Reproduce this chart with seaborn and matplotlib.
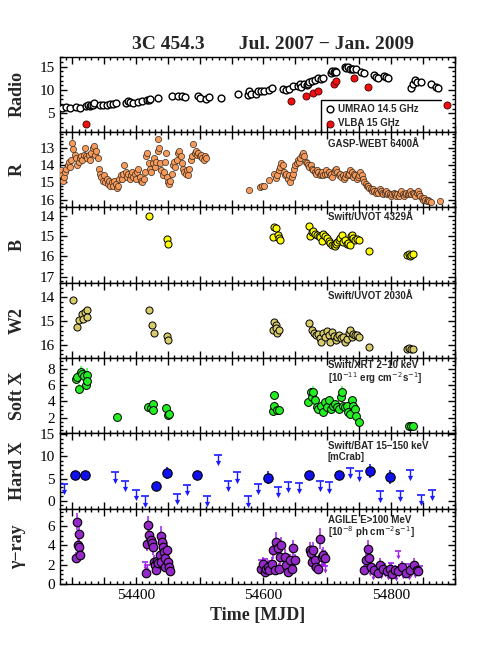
import numpy as np
import pandas as pd
import seaborn as sns
import matplotlib.pyplot as plt
from matplotlib.ticker import MultipleLocator, FuncFormatter

# ---- Radio (UMRAO 14.5 GHz, VLBA 15 GHz), Jy ----
umrao_mjd = [54284, 54290, 54296, 54306, 54312, 54322, 54325, 54328, 54330, 54333,
             54335, 54343, 54348, 54354, 54359, 54364, 54369, 54385, 54388, 54391,
             54396, 54404, 54409, 54417, 54420, 54422, 54435, 54456, 54466, 54473,
             54477, 54497, 54500, 54510, 54515, 54534, 54560, 54576, 54578, 54581,
             54588, 54591, 54596, 54601, 54608, 54614, 54631, 54636, 54640, 54646,
             54654, 54657, 54659, 54664, 54668, 54670, 54672, 54676, 54680, 54686,
             54690, 54694, 54706, 54708, 54710, 54712, 54714, 54728, 54730, 54733,
             54735, 54738, 54741, 54745, 54753, 54758, 54774, 54777, 54780, 54789,
             54792, 54796, 54832, 54834, 54837, 54840, 54847, 54863, 54871, 54873]
umrao_flux = [6.2, 6.3, 6.2, 6.4, 6.1, 6.6, 6.7, 6.6, 6.8, 6.7,
              7.3, 6.8, 6.9, 6.9, 7.0, 7.1, 7.3, 7.3, 7.6, 7.4,
              7.2, 7.4, 7.6, 7.9, 7.8, 8.0, 8.4, 8.7, 8.7, 8.8,
              8.5, 8.7, 8.2, 8.0, 8.6, 8.2, 9.1, 8.9, 9.9, 9.2,
              9.1, 9.7, 9.7, 9.9, 10.0, 10.4, 10.2, 10.0, 10.3, 10.9,
              10.8, 11.2, 10.7, 11.2, 11.1, 11.3, 11.8, 12.0, 12.1, 12.5,
              12.4, 12.6, 13.6, 14.0, 13.8, 14.1, 13.9, 15.0, 14.8, 14.9,
              14.6, 14.4, 14.5, 14.4, 13.8, 13.6, 13.2, 12.8, 12.6, 13.0,
              12.7, 12.6, 10.5, 11.4, 12.1, 11.8, 11.7, 11.2, 10.7, 10.4]
vlba_mjd = [54322, 54643, 54666, 54678, 54685, 54711, 54714, 54742, 54764, 54888]
vlba_flux = [2.7, 7.7, 8.8, 9.4, 9.85, 11.4, 11.9, 12.5, 10.6, 6.8]

# ---- GASP-WEBT R band, mag ----
r_mjd = [54282, 54284, 54285, 54287, 54289, 54291, 54293, 54295, 54297, 54299,
         54300, 54302, 54304, 54306, 54308, 54310, 54312, 54314, 54316, 54318,
         54320, 54322, 54324, 54326, 54328, 54330, 54332, 54334, 54336, 54338,
         54340,
         54342, 54344, 54346, 54348, 54350, 54352, 54354, 54356, 54358, 54360,
         54362, 54364, 54366, 54368, 54370, 54372, 54374, 54376, 54378, 54380,
         54382, 54384, 54386, 54388, 54390, 54392, 54394, 54396, 54398, 54400,
         54402, 54404, 54406, 54408, 54410, 54412, 54414, 54416, 54418, 54420,
         54422, 54424, 54426, 54428, 54430, 54432, 54434, 54435, 54436, 54438,
         54440, 54442, 54444, 54446, 54447, 54448, 54450, 54452, 54454, 54456,
         54458, 54460, 54462, 54464, 54466, 54468, 54470, 54472, 54474, 54476,
         54478, 54480, 54482, 54484, 54486, 54488, 54490, 54492, 54494, 54496,
         54498, 54500, 54502, 54504, 54506, 54508, 54510,
         54578, 54595, 54598, 54601, 54609, 54617, 54619, 54621, 54624, 54626,
         54628, 54630, 54632, 54634, 54636, 54638, 54640, 54642, 54644, 54646,
         54648, 54650, 54652, 54654, 54656, 54658, 54660, 54662, 54664, 54666,
         54668, 54670, 54672, 54674, 54676, 54678, 54680, 54682, 54684, 54686,
         54688, 54690, 54692, 54694, 54696, 54698, 54700, 54702, 54704, 54706,
         54708, 54710, 54712, 54714, 54716, 54718, 54720, 54722, 54724, 54726,
         54728, 54730, 54732, 54734, 54736, 54738, 54740, 54742, 54744, 54746,
         54748, 54750, 54752, 54754, 54756, 54758, 54760, 54762, 54764, 54766,
         54768, 54770, 54772, 54774, 54776, 54778, 54780, 54782, 54784, 54786,
         54788, 54790, 54792, 54794, 54796, 54798, 54800, 54802, 54804, 54806,
         54808, 54810, 54812, 54814, 54816, 54818, 54820, 54822, 54824, 54826,
         54828, 54830, 54832, 54834, 54836, 54838, 54840, 54842, 54844, 54846,
         54848, 54850, 54852, 54854, 54856, 54858, 54860, 54862, 54877]
r_mag = [14.3, 14.6, 14.9, 14.7, 14.4, 14.2, 14.0, 13.8, 14.1, 13.7,
         12.7, 13.1, 13.4, 13.6, 14.0, 13.8, 13.6, 13.5, 13.7, 13.4,
         13.0, 13.5, 13.6, 13.4, 13.7, 13.3, 13.0, 12.9, 13.4, 13.2,
         13.6,
         14.2, 14.5, 14.7, 14.9, 14.6, 15.0, 14.8, 15.1, 14.9, 15.2,
         15.0, 15.2, 14.9, 15.1, 15.3, 15.2, 14.8, 14.6, 14.8, 14.5,
         14.0, 14.4, 14.7, 14.5, 14.8, 14.6, 14.4, 14.7, 14.5, 14.8,
         14.4, 14.2, 14.7, 14.9, 15.0, 14.8, 14.4, 13.5, 13.3, 13.9,
         14.2, 14.4, 13.9, 13.6, 14.1, 13.8, 13.2, 12.5, 13.0, 13.9,
         14.3, 14.6, 14.4, 13.8, 13.3, 14.7, 15.0, 15.1, 14.9, 14.5,
         14.0, 13.8, 14.1, 13.7, 13.3, 13.2, 13.5, 13.9, 14.2, 14.4,
         14.5, 14.3, 14.6, 14.2, 13.7, 13.5, 12.8, 13.3, 13.2, 13.4,
         13.3, 13.5, 13.4, 13.6, 13.7, 13.5, 13.6,
         15.45, 15.25, 15.2, 15.22, 14.85, 14.5, 14.75, 14.6, 14.3, 14.1,
         13.9, 14.0, 14.4, 14.6, 14.5, 14.8, 14.6, 15.0, 14.7, 14.5,
         14.2, 14.0, 13.9, 13.7, 13.8, 13.6, 13.4, 13.3, 13.5, 13.8,
         13.9, 14.0, 14.1, 14.0, 14.2, 14.3, 14.4, 14.5, 14.3, 14.4,
         14.6, 14.5, 14.4, 14.6, 14.5, 14.3, 14.5, 14.4, 14.6, 14.5,
         14.7, 14.4, 14.3, 14.2, 14.4, 14.6, 14.5, 14.7, 14.6, 14.8,
         14.7, 14.5, 14.6, 14.5, 14.3, 14.4, 14.7, 14.5, 14.6, 14.8,
         14.7, 14.6, 14.4, 14.6, 14.8, 15.0, 15.1, 15.2, 15.2, 15.3,
         15.4, 15.5, 15.4, 15.5, 15.6, 15.5, 15.6, 15.4, 15.5, 15.6,
         15.7, 15.6, 15.5, 15.7, 15.6, 15.7, 15.8, 15.7, 15.6, 15.7,
         15.8, 15.7, 15.8, 15.6, 15.5, 15.7, 15.8, 15.7, 15.6, 15.7,
         15.6, 15.5, 15.7, 15.6, 15.7, 15.8, 15.6, 15.5, 15.7, 15.8,
         15.9, 16.0, 15.9, 16.0, 16.1, 16.0, 16.1, 16.15, 16.05]

# ---- Swift/UVOT B and W2, mag ----
b_mjd = [54421, 54448, 54451, 54615, 54617, 54619, 54622, 54624, 54626, 54671,
         54673, 54676, 54678, 54681, 54684, 54687, 54689, 54691, 54694, 54697,
         54699, 54702, 54705, 54707, 54710, 54712, 54714, 54716, 54718, 54720,
         54723, 54725, 54728, 54731, 54733, 54735, 54737, 54739, 54741, 54744,
         54746, 54749, 54766, 54825, 54828, 54830, 54832, 54834]
b_mag = [14.0, 15.15, 15.38, 15.05, 14.55, 14.62, 14.95, 15.1, 15.2, 14.53,
         14.98, 14.8, 14.77, 14.9, 14.94, 15.0, 15.07, 15.23, 14.9, 15.0,
         15.1, 15.27, 15.35, 15.43, 15.45, 15.51, 15.4, 15.3, 15.2, 15.1,
         14.97, 15.3, 15.2, 15.4, 15.35, 15.43, 15.0, 14.97, 15.1, 15.18,
         15.15, 15.2, 15.76, 15.95, 15.9, 16.0, 15.95, 15.9]
w2_mjd = [54302, 54308, 54311, 54315, 54317, 54320, 54323, 54324, 54421, 54425,
          54428, 54448, 54451, 54615, 54617, 54619, 54620, 54621, 54624, 54671,
          54676, 54679, 54682, 54685, 54688, 54690, 54693, 54696, 54699, 54702,
          54704, 54707, 54710, 54713, 54716, 54719, 54722, 54725, 54728, 54731,
          54734, 54736, 54738, 54740, 54743, 54746, 54749, 54766, 54825, 54828,
          54831, 54834]
w2_mag = [14.1, 15.24, 14.96, 14.69, 14.93, 14.62, 14.52, 14.85, 14.55, 15.17,
          15.52, 15.62, 15.79, 15.38, 15.03, 15.17, 15.3, 15.52, 15.38, 15.07,
          15.38, 15.5, 15.58, 15.55, 15.72, 15.86, 15.5, 15.65, 15.4, 15.6,
          15.86, 15.45, 15.62, 15.79, 15.65, 15.58, 15.72, 15.65, 15.86, 15.75,
          15.5, 15.38, 15.65, 15.55, 15.6, 15.58, 15.65, 16.07, 16.15, 16.12,
          16.17, 16.15]

# ---- Swift/XRT 2-10 keV ----
sx_mjd = [54306, 54308, 54311, 54314, 54316, 54319, 54322, 54323, 54324, 54371,
          54419, 54423, 54426, 54426, 54447, 54450, 54452, 54615, 54617, 54617,
          54621, 54625, 54670, 54674, 54676, 54677, 54681, 54684, 54686, 54690,
          54693, 54697, 54699, 54702, 54706, 54709, 54712, 54716, 54719, 54721,
          54723, 54725, 54728, 54731, 54733, 54736, 54738, 54741, 54744, 54745,
          54750, 54828, 54831, 54834]
sx_flux = [6.69, 6.97, 5.55, 7.58, 7.38, 7.1, 5.95, 7.2, 6.44, 2.16,
           3.38, 3.22, 3.71, 2.97, 3.18, 2.36, 2.5, 2.85, 4.81, 3.5,
           2.9, 3.0, 3.91, 5.13, 4.52, 5.1, 4.12, 3.3, 3.1, 3.5,
           2.69, 3.91, 3.3, 4.12, 3.02, 3.5, 3.71, 3.3, 3.1, 4.52,
           5.13, 3.5, 3.3, 3.5, 2.69, 2.49, 4.12, 3.5, 3.1, 2.28,
           1.55, 0.97, 1.0, 0.95]
sx_err = [0.5, 0.6, 0.6, 0.7, 0.6, 0.7, 0.6, 0.9, 0.5, 0.2,
          0.3, 0.3, 0.3, 0.3, 0.3, 0.5, 0.3, 0.3, 0.3, 0.3,
          0.2, 0.3, 0.3, 0.5, 0.4, 0.8, 0.3, 0.2, 0.2, 0.3,
          0.2, 0.3, 0.2, 0.3, 0.2, 0.3, 0.3, 0.2, 0.2, 0.4,
          0.8, 0.3, 0.2, 0.3, 0.2, 0.3, 0.4, 0.3, 0.2, 0.3,
          0.2, 0.15, 0.15, 0.15]

# ---- Swift/BAT 15-150 keV, mCrab ----
hx_mjd = [54304, 54320, 54431, 54448, 54496, 54607, 54672, 54719, 54767, 54799]
hx_flux = [5.8, 5.8, 3.4, 6.3, 5.8, 5.2, 5.8, 5.8, 6.7, 5.3]
hx_err = [0.6, 0.6, 0.7, 1.4, 0.7, 1.4, 1.0, 0.9, 1.6, 1.6]
hx_ul_mjd = [54288, 54367, 54383, 54400, 54415, 54464, 54480, 54512, 54528, 54544,
             54559, 54575, 54591, 54623, 54639, 54656, 54688, 54703, 54735, 54750,
             54783, 54814, 54830, 54847, 54864]
hx_ul = [3.8, 6.4, 4.5, 2.5, 1.0, 1.5, 3.6, 1.1, 10.4, 4.5,
         6.4, 1.0, 3.8, 3.2, 4.3, 4.0, 4.5, 4.2, 7.4, 6.8,
         2.1, 2.3, 7.0, 1.3, 2.5]

# ---- AGILE E>100 MeV ----
gam_mjd = [54306.6, 54307.7, 54309, 54310, 54311, 54312,
           54416.5, 54418, 54419, 54421, 54423, 54425, 54426, 54428, 54430, 54431,
           54433.7, 54435, 54437, 54439, 54440, 54441, 54443, 54444, 54445, 54446,
           54448, 54450, 54452, 54453.5,
           54596.8, 54599.5, 54602, 54604, 54607, 54609, 54613, 54615, 54618, 54619,
           54623, 54625, 54626, 54628, 54633.5, 54636, 54639, 54641, 54644, 54646.5,
           54649.5,
           54672.6, 54675, 54676, 54678, 54680, 54683, 54686, 54688, 54691, 54694, 54696,
           54757.5, 54761, 54764, 54766, 54769, 54774, 54779, 54783, 54788, 54793,
           54798, 54801, 54806, 54811, 54817, 54824, 54830, 54836, 54840, 54843]
gam_flux = [2.74, 6.47, 4.0, 5.2, 3.8, 3.05,
            1.17, 4.18, 6.06, 5.03, 4.59, 4.2, 3.84, 2.3, 2.0, 1.44,
            2.4, 2.2, 3.0, 5.0, 2.3, 4.4, 3.84, 3.34, 2.7, 1.8,
            3.56, 2.3, 1.8, 1.3,
            1.6, 2.1, 1.27, 1.6, 1.8, 1.4, 2.1, 3.5, 1.44, 4.4,
            3.7, 1.6, 2.8, 4.0, 2.8, 2.0, 1.27, 2.45, 1.6, 3.7,
            2.45,
            3.5, 3.2, 2.3, 3.5, 2.45, 1.8, 1.6, 4.7, 2.8, 3.0, 2.7,
            1.44, 2.45, 3.6, 2.7, 1.8, 1.44, 1.1, 2.0, 1.6, 1.3,
            1.6, 1.0, 1.44, 1.3, 1.8, 1.1, 1.44, 2.0, 1.44, 1.3]
gam_err = [0.6, 0.9, 0.8, 0.9, 0.8, 0.7,
           0.5, 0.8, 1.0, 0.9, 0.9, 0.8, 0.8, 0.7, 0.6, 0.5,
           0.7, 0.6, 0.8, 1.0, 0.7, 0.9, 0.8, 0.8, 0.7, 0.6,
           0.8, 0.7, 0.6, 0.5,
           0.6, 0.7, 0.5, 0.6, 0.6, 0.5, 0.7, 0.9, 0.5, 1.0,
           0.9, 0.6, 0.8, 0.9, 0.8, 0.7, 0.5, 0.7, 0.6, 0.9,
           0.7,
           0.9, 0.8, 0.7, 0.9, 0.7, 0.6, 0.6, 1.1, 0.8, 0.8, 0.8,
           0.5, 0.8, 1.0, 0.8, 0.6, 0.5, 0.5, 0.7, 0.6, 0.5,
           0.6, 0.5, 0.5, 0.5, 0.6, 0.5, 0.5, 0.7, 0.5, 0.5]
gam_ul_mjd = [54414, 54417, 54596, 54599, 54603, 54606, 54611, 54684, 54690, 54693,
              54697, 54762, 54767, 54771, 54775, 54778, 54781, 54785, 54787, 54790,
              54792, 54795, 54797, 54800, 54803, 54805, 54808, 54811, 54813, 54815,
              54819, 54821, 54826, 54828, 54832, 54834, 54838, 54841, 54845]
gam_ul = [2.3, 2.0, 2.5, 2.2, 2.6, 2.1, 2.4, 2.4, 2.0, 2.6,
          1.9, 1.9, 1.6, 1.2, 1.9, 1.4, 1.7, 1.3, 2.1, 1.5,
          1.8, 1.2, 1.6, 2.2, 1.4, 1.7, 1.1, 3.4, 1.5, 2.0,
          1.3, 1.6, 2.1, 1.2, 1.5, 1.8, 1.4, 1.7, 1.9]

sns.set_style("ticks")
plt.rcParams["font.family"] = ["Liberation Serif", "DejaVu Serif"]
plt.rcParams["mathtext.fontset"] = "dejavusans"

lab_font = dict(family=["Liberation Serif", "DejaVu Serif"], weight="bold", size=13)
note_font = dict(family=["Liberation Sans", "DejaVu Sans"], weight="bold", size=7)


def upper_limits(ax, x, y, drop, color, bar, head):
    x = np.asarray(x, dtype=float)
    y = np.asarray(y, dtype=float)
    ax.vlines(x, y - drop, y, color=color, lw=1)
    ax.scatter(x, y, marker="_", s=bar, color=color, linewidths=1.2)
    ax.scatter(x, y - drop, marker="v", s=head, color=color, linewidths=0)


fig, axes = plt.subplots(7, 1, figsize=(4.96, 6.61), dpi=100, sharex=True)
fig.subplots_adjust(left=0.121, right=0.917, top=0.914, bottom=0.1165, hspace=0)
ax_rad, ax_r, ax_b, ax_w2, ax_sx, ax_hx, ax_g = axes

# Radio
sns.scatterplot(x=umrao_mjd, y=umrao_flux, ax=ax_rad, color="white", edgecolor="black",
                linewidth=1.0, s=24, label="UMRAO 14.5 GHz", zorder=3)
sns.scatterplot(x=vlba_mjd, y=vlba_flux, ax=ax_rad, color="#ee1010", edgecolor="#400000",
                linewidth=0.6, s=26, label="VLBA 15 GHz", zorder=3)
ax_rad.legend(loc="lower left", bbox_to_anchor=(0.662, 0.0), frameon=False,
              prop=note_font, handletextpad=0.3, labelspacing=0.45,
              borderpad=0.4, handlelength=1.0, borderaxespad=0)
ax_rad.plot([0.662, 0.662, 0.965], [0.0, 0.43, 0.43], transform=ax_rad.transAxes,
            color="black", lw=1)
ax_rad.set_ylim(1.0, 17.1)
ax_rad.yaxis.set_major_locator(MultipleLocator(5))
ax_rad.yaxis.set_minor_locator(MultipleLocator(1))
ax_rad.set_ylabel("Radio", fontdict=lab_font)

# R band
sns.scatterplot(x=r_mjd, y=r_mag, ax=ax_r, color="#f59a5a", edgecolor="#3a2a20",
                linewidth=0.5, s=20, zorder=3)
ax_r.set_ylim(16.45, 12.1)
ax_r.yaxis.set_major_locator(MultipleLocator(1))
ax_r.yaxis.set_minor_locator(MultipleLocator(0.2))
ax_r.set_ylabel("R", fontdict=lab_font)
ax_r.text(0.678, 0.84, "GASP-WEBT 6400Å", transform=ax_r.transAxes, va="center", **note_font)

# B band
sns.scatterplot(x=b_mjd, y=b_mag, ax=ax_b, color="#ffff00", edgecolor="black",
                linewidth=0.7, s=26, zorder=3)
ax_b.set_ylim(17.3, 13.6)
ax_b.yaxis.set_major_locator(MultipleLocator(1))
ax_b.yaxis.set_minor_locator(MultipleLocator(0.2))
ax_b.set_ylabel("B", fontdict=lab_font)
ax_b.text(0.678, 0.867, "Swift/UVOT 4329Å", transform=ax_b.transAxes, va="center", **note_font)

# W2 band
sns.scatterplot(x=w2_mjd, y=w2_mag, ax=ax_w2, color="#d8cc6a", edgecolor="black",
                linewidth=0.7, s=26, zorder=3)
ax_w2.set_ylim(16.55, 13.4)
ax_w2.yaxis.set_major_locator(MultipleLocator(1))
ax_w2.yaxis.set_minor_locator(MultipleLocator(0.2))
ax_w2.set_ylabel("W2", fontdict=lab_font)
ax_w2.text(0.678, 0.827, "Swift/UVOT 2030Å", transform=ax_w2.transAxes, va="center", **note_font)

# Soft X
ax_sx.errorbar(sx_mjd, sx_flux, yerr=sx_err, fmt="none", ecolor="#44ff44", elinewidth=1.2,
               capsize=0, zorder=2)
sns.scatterplot(x=sx_mjd, y=sx_flux, ax=ax_sx, color="#22ee22", edgecolor="black",
                linewidth=0.7, s=32, zorder=3)
ax_sx.set_ylim(0.1, 9.3)
ax_sx.yaxis.set_major_locator(MultipleLocator(2))
ax_sx.yaxis.set_minor_locator(MultipleLocator(0.5))
ax_sx.set_ylabel("Soft X", fontdict=lab_font)
ax_sx.text(0.678, 0.91, "Swift/XRT 2–10 keV", transform=ax_sx.transAxes, va="center", **note_font)
ax_sx.text(0.678, 0.74, r"[10$^{-11}$ erg cm$^{-2}$s$^{-1}$]", transform=ax_sx.transAxes,
           va="center", **note_font)

# Hard X
upper_limits(ax_hx, hx_ul_mjd, hx_ul, 1.9, "#1a1aff", 36, 14)
ax_hx.errorbar(hx_mjd, hx_flux, yerr=hx_err, fmt="none", ecolor="#1a1aff", elinewidth=1.2,
               capsize=0, zorder=2)
sns.scatterplot(x=hx_mjd, y=hx_flux, ax=ax_hx, color="#1010ee", edgecolor="black",
                linewidth=0.8, s=46, zorder=3)
ax_hx.set_ylim(-1.8, 15.2)
ax_hx.yaxis.set_major_locator(MultipleLocator(5))
ax_hx.yaxis.set_minor_locator(MultipleLocator(1))
ax_hx.set_ylabel("Hard X", fontdict=lab_font)
ax_hx.text(0.678, 0.83, "Swift/BAT 15–150 keV", transform=ax_hx.transAxes, va="center", **note_font)
ax_hx.text(0.678, 0.69, "[mCrab]", transform=ax_hx.transAxes, va="center", **note_font)

# gamma-ray
upper_limits(ax_g, gam_ul_mjd, gam_ul, 0.6, "#a020e8", 16, 8)
ax_g.errorbar(gam_mjd, gam_flux, yerr=gam_err, fmt="none", ecolor="#a020e8", elinewidth=1.1,
              capsize=0, zorder=2)
sns.scatterplot(x=gam_mjd, y=gam_flux, ax=ax_g, color="#9428c8", edgecolor="black",
                linewidth=0.8, s=38, zorder=3)
ax_g.set_ylim(0, 7.8)
ax_g.yaxis.set_major_locator(MultipleLocator(2))
ax_g.yaxis.set_minor_locator(MultipleLocator(0.5))
ax_g.set_ylabel("γ−ray", fontdict=lab_font)
ax_g.text(0.678, 0.855, "AGILE E>100 MeV", transform=ax_g.transAxes, va="center", **note_font)
ax_g.text(0.678, 0.69, r"[10$^{-8}$ ph cm$^{-2}$s$^{-1}$]", transform=ax_g.transAxes,
          va="center", **note_font)
ax_g.set_xlabel("Time [MJD]", fontdict=lab_font, labelpad=4)

for ax in axes:
    ax.set_xlim(54281, 54900)
    ax.xaxis.set_major_locator(MultipleLocator(50))
    ax.xaxis.set_minor_locator(MultipleLocator(10))
    ax.xaxis.set_major_formatter(FuncFormatter(lambda v, p: f"{v:.0f}" if v % 200 == 0 else ""))
    ax.tick_params(which="both", direction="in", top=True, right=True, width=1,
                   labelsize=11, colors="black")
    ax.tick_params(which="major", length=5)
    ax.tick_params(which="minor", length=2.5)
    ax.yaxis.set_label_coords(-0.087, 0.5)
    for sp in ax.spines.values():
        sp.set_linewidth(1.0)
        sp.set_color("black")

fig.text(0.55, 0.932, "3C 454.3       Jul. 2007 − Jan. 2009", ha="center", va="center",
         family=["Liberation Serif", "DejaVu Serif"], weight="bold", size=14)

fig.savefig("out.png", dpi=100)
